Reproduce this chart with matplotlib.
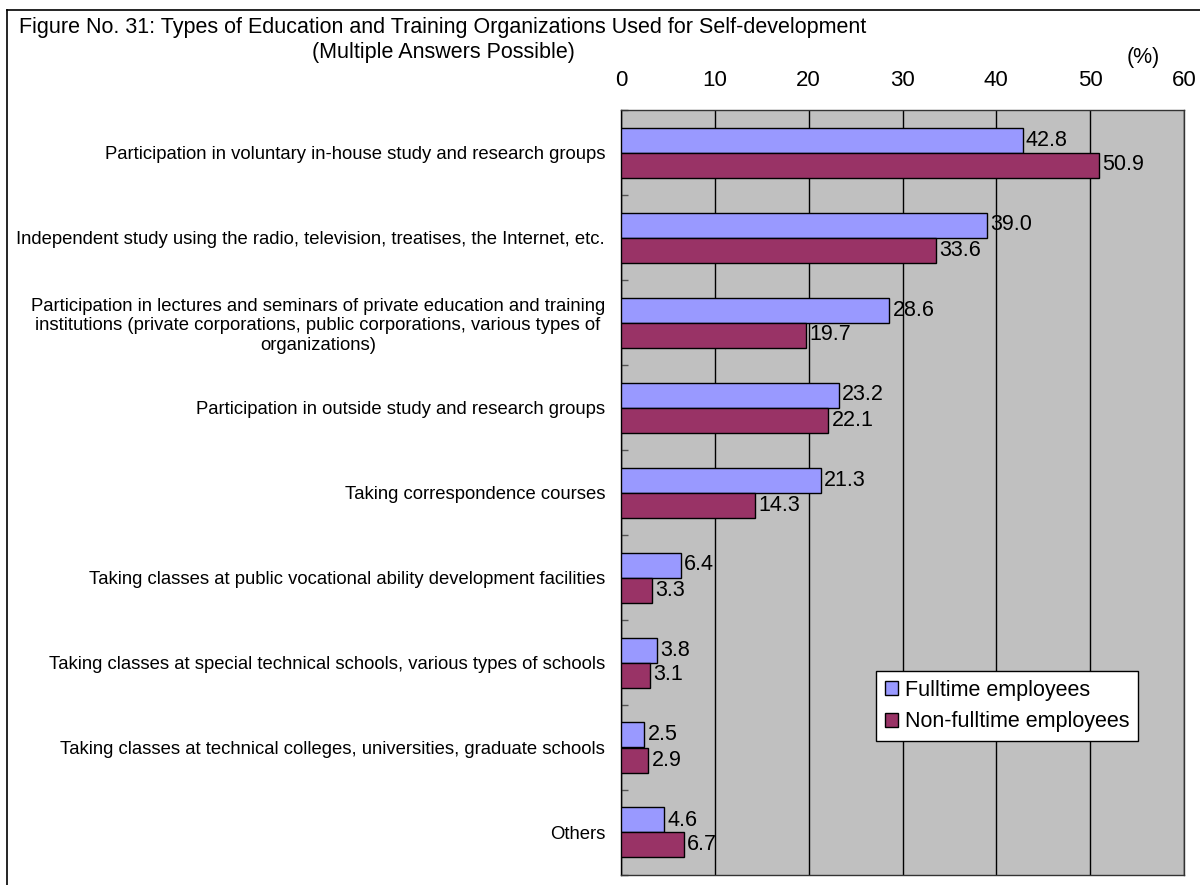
import matplotlib
matplotlib.use("Agg")
import matplotlib.pyplot as plt
from matplotlib.lines import Line2D
from matplotlib.patches import Patch
import numpy as np

plt.rcParams['font.family'] = ['Liberation Sans', 'DejaVu Sans']

categories = [
    "Participation in voluntary in-house study and research groups",
    "Independent study using the radio, television, treatises, the Internet, etc.",
    "Participation in lectures and seminars of private education and training\n"
    "institutions (private corporations, public corporations, various types of\n"
    "organizations)",
    "Participation in outside study and research groups",
    "Taking correspondence courses",
    "Taking classes at public vocational ability development facilities",
    "Taking classes at special technical schools, various types of schools",
    "Taking classes at technical colleges, universities, graduate schools",
    "Others",
]
fulltime = [42.8, 39.0, 28.6, 23.2, 21.3, 6.4, 3.8, 2.5, 4.6]
non_fulltime = [50.9, 33.6, 19.7, 22.1, 14.3, 3.3, 3.1, 2.9, 6.7]
series_names = ["Fulltime employees", "Non-fulltime employees"]
x_ticks = [0, 10, 20, 30, 40, 50, 60]

col_full = "#9999FF"
col_non = "#993366"
bg = "#C0C0C0"

W, H = 1200, 885
fig = plt.figure(figsize=(W / 100, H / 100), dpi=100)
fig.patch.set_facecolor("white")

left, right, top, bottom = 621, 1184, 110, 875
ax = fig.add_axes([left / W, 1 - bottom / H, (right - left) / W, (bottom - top) / H])
ax.set_facecolor(bg)

n = len(categories)
pos = np.arange(n)
bh = 25 / 85

b1 = ax.barh(pos - bh / 2, fulltime, height=bh, color=col_full, edgecolor="black", linewidth=1, zorder=3)
b2 = ax.barh(pos + bh / 2, non_fulltime, height=bh, color=col_non, edgecolor="black", linewidth=1, zorder=3)

for bars, vals in ((b1, fulltime), (b2, non_fulltime)):
    for rect, v in zip(bars, vals):
        ax.text(v + 0.35, rect.get_y() + rect.get_height() / 2, f"{v:.1f}",
                va="center", ha="left", fontsize=15.5, color="black", zorder=4)

ax.set_xlim(0, 60)
ax.set_ylim(n - 0.5, -0.5)
ax.set_xticks(x_ticks)
ax.xaxis.tick_top()
ax.tick_params(axis="x", length=0, pad=14, labelsize=16)
ax.grid(axis="x", color="black", linewidth=1, zorder=1)

ax.set_yticks(pos)
ax.set_yticklabels(categories, fontsize=13.3, multialignment="center", linespacing=1.2)
ax.tick_params(axis="y", which="major", length=0, pad=11.5)
ax.set_yticks(np.arange(n + 1) - 0.5, minor=True)
ax.tick_params(axis="y", which="minor", direction="in", length=5, color="#555555", width=1)

for s in ax.spines.values():
    s.set_color("#333333")
    s.set_linewidth(1)
ax.spines["left"].set_color("black")

fig.text(1143 / W, 1 - 57 / H, "(%)", fontsize=15.5, ha="center", va="center")

fig.text(443 / W, 1 - 40 / H,
         "Figure No. 31: Types of Education and Training Organizations Used for Self-development\n"
         "(Multiple Answers Possible)",
         fontsize=15.5, ha="center", va="center", multialignment="center", linespacing=1.2)

handles = [Patch(facecolor=col_full, edgecolor="black"), Patch(facecolor=col_non, edgecolor="black")]
leg = fig.legend(handles, series_names, loc="upper left",
                 bbox_to_anchor=(876 / W, 1 - 671 / H), fontsize=15.5,
                 frameon=True, fancybox=False, edgecolor="black", framealpha=1,
                 handlelength=0.6, handleheight=0.6, handletextpad=0.35,
                 borderpad=0.4, labelspacing=0.5, borderaxespad=0)
leg.get_frame().set_linewidth(1)

# outer frame lines along the left and top edges
fig.add_artist(Line2D([7 / W, 7 / W], [0, 1 - 10 / H], color="black", linewidth=1.2))
fig.add_artist(Line2D([7 / W, 1], [1 - 10 / H, 1 - 10 / H], color="black", linewidth=1.2))

fig.savefig("out.png", dpi=100)
